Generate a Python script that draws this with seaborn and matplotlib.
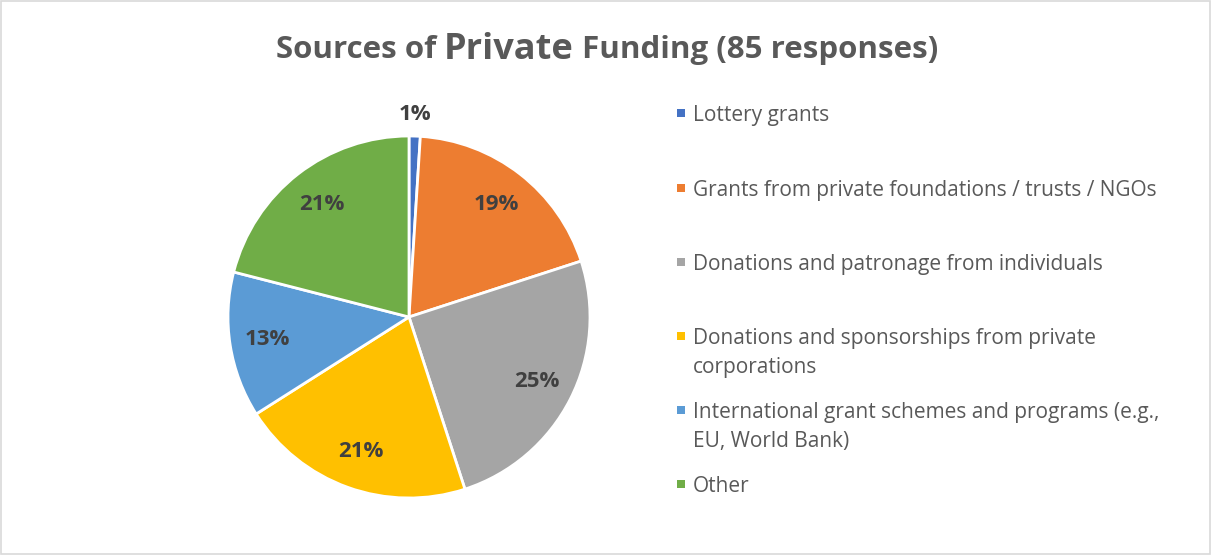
import matplotlib
matplotlib.use("Agg")
import matplotlib.pyplot as plt
from matplotlib.patches import Rectangle
import seaborn as sns

# Shares of private funding sources (percent of responses)
categories = [
    "Lottery grants",
    "Grants from private foundations / trusts / NGOs",
    "Donations and patronage from individuals",
    "Donations and sponsorships from private\ncorporations",
    "International grant schemes and programs (e.g.,\nEU, World Bank)",
    "Other",
]
shares = [1, 19, 25, 21, 13, 21]
slice_colors = ["#4472C4", "#ED7D31", "#A5A5A5", "#FFC000", "#5B9BD5", "#70AD47"]
title_parts = [("Sources of ", 22.5), ("Private", 26), (" Funding (85 responses)", 22.5)]

sns.set_theme(style="white")
plt.rcParams["font.family"] = ["Open Sans", "DejaVu Sans"]

W, H, DPI = 1212, 557, 100
fig = plt.figure(figsize=(W / DPI, H / DPI), dpi=DPI)
fig.patch.set_facecolor("white")

# light frame around the chart area
fig.add_artist(Rectangle((1 / W, 3 / H), (W - 3) / W, (H - 4) / H,
                         transform=fig.transFigure, fill=False,
                         edgecolor="#D9D9D9", linewidth=1.2))

# pie axes: centre and radius in pixels
cx, cy, r = 409, 317, 181
ax = fig.add_axes([(cx - r) / W, 1 - (cy + r) / H, 2 * r / W, 2 * r / H])
palette = sns.color_palette(slice_colors)
wedges, texts, autotexts = ax.pie(
    shares, colors=palette, startangle=90, counterclock=False,
    autopct="%1.0f%%", pctdistance=0.79,
    wedgeprops=dict(edgecolor="white", linewidth=2),
    textprops=dict(color="#404040", fontsize=16, fontweight="bold"),
)
for t, v in zip(autotexts, shares):
    if v < 5:
        x, y = t.get_position()
        t.set_position((x * 1.42, y * 1.42))
ax.set_xlim(-1, 1)
ax.set_ylim(-1, 1)
ax.set_aspect("equal")
ax.axis("off")

# title built from pieces with different sizes
fig.canvas.draw()
renderer = fig.canvas.get_renderer()
pieces = []
for s, fs in title_parts:
    pieces.append(fig.text(0, 1 - 50 / H, s, fontsize=fs, fontweight="bold",
                           color="#595959", va="center", ha="left"))
widths = [p.get_window_extent(renderer).width for p in pieces]
x0 = (607 - sum(widths) / 2)
for p, w in zip(pieces, widths):
    p.set_x(x0 / W)
    x0 += w

# legend entries
legend_y = [113, 188, 262, 336, 410, 484]
for lab, col, y in zip(categories, slice_colors, legend_y):
    fig.add_artist(Rectangle((677 / W, 1 - (y + 4) / H), 8 / W, 8 / H,
                             transform=fig.transFigure, color=col, lw=0))
    fig.text(693 / W, 1 - (y - 8) / H, lab, fontsize=15, color="#595959",
             va="top", ha="left", linespacing=1.52)

fig.savefig("out.png", dpi=DPI, facecolor="white")
